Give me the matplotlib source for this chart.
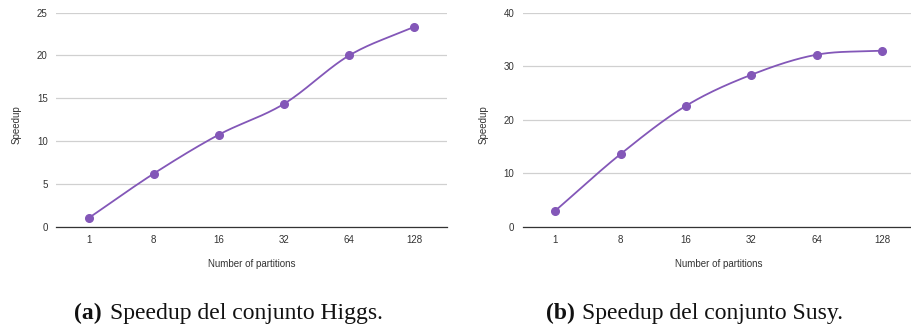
import numpy as np
import matplotlib
matplotlib.use('Agg')
import matplotlib.pyplot as plt

# Data
partitions = ['1', '8', '16', '32', '64', '128']
higgs_speedup = [1.0, 6.2, 10.75, 14.35, 20.0, 23.35]
susy_speedup = [3.0, 13.6, 22.6, 28.4, 32.15, 32.9]

higgs_yticks = [0, 5, 10, 15, 20, 25]
susy_yticks = [0, 10, 20, 30, 40]

line_color = '#8357b8'
sans = ['Liberation Sans', 'DejaVu Sans']


def smooth(x, y, n=30):
    # Catmull-Rom style cubic through the data points
    x = np.asarray(x, float)
    y = np.asarray(y, float)
    m = np.gradient(y, x)
    xs, ys = [], []
    for i in range(len(x) - 1):
        h = x[i + 1] - x[i]
        t = np.linspace(0, 1, n)
        h00 = 2 * t**3 - 3 * t**2 + 1
        h10 = t**3 - 2 * t**2 + t
        h01 = -2 * t**3 + 3 * t**2
        h11 = t**3 - t**2
        xs.append(x[i] + t * h)
        ys.append(h00 * y[i] + h10 * h * m[i] + h01 * y[i + 1] + h11 * h * m[i + 1])
    return np.concatenate(xs), np.concatenate(ys)


def draw(ax, values, yticks):
    xpos = np.arange(len(partitions)) + 0.5
    sx, sy = smooth(xpos, values)
    ax.plot(sx, sy, color=line_color, lw=1.3, zorder=3, clip_on=False)
    ax.plot(xpos, values, 'o', color=line_color, ms=5.5, zorder=4, clip_on=False)
    ax.set_xlim(0, len(partitions))
    ax.set_ylim(yticks[0], yticks[-1])
    ax.set_xticks(xpos)
    ax.set_xticklabels(partitions, family=sans, fontsize=7, color='#333333')
    ax.set_yticks(yticks)
    ax.set_yticklabels([str(v) for v in yticks], family=sans, fontsize=7, color='#333333')
    ax.tick_params(length=0, pad=6)
    ax.grid(axis='y', color='#d0d0d0', lw=0.9)
    ax.set_axisbelow(True)
    for s in ['top', 'right', 'left']:
        ax.spines[s].set_visible(False)
    ax.spines['bottom'].set_color('#333333')
    ax.spines['bottom'].set_linewidth(0.9)
    ax.set_xlabel('Number of partitions', family=sans, fontsize=7, color='#333333', labelpad=10)
    ax.set_ylabel('Speedup', family=sans, fontsize=7, color='#333333')
    ax.yaxis.set_label_coords(-0.088, 0.475)


fig = plt.figure(figsize=(9.11, 3.25), dpi=100)
ax1 = fig.add_axes([0.0615, 0.3025, 0.429, 0.6585])
ax2 = fig.add_axes([0.5738, 0.3025, 0.4303, 0.6585])

draw(ax1, higgs_speedup, higgs_yticks)
draw(ax2, susy_speedup, susy_yticks)

serif = ['Liberation Serif', 'DejaVu Serif']
for xstart, letter, name in [(74 / 911, 'a', 'Higgs'), (546 / 911, 'b', 'Susy')]:
    fig.text(xstart, 0.035, f'({letter})', family=serif, fontsize=17, fontweight='bold',
             ha='left', va='center', color='#111111')
    fig.text(xstart + 36 / 911, 0.035, f'Speedup del conjunto {name}.', family=serif, fontsize=17,
             ha='left', va='center', color='#111111')

fig.savefig('out.png', dpi=100)
